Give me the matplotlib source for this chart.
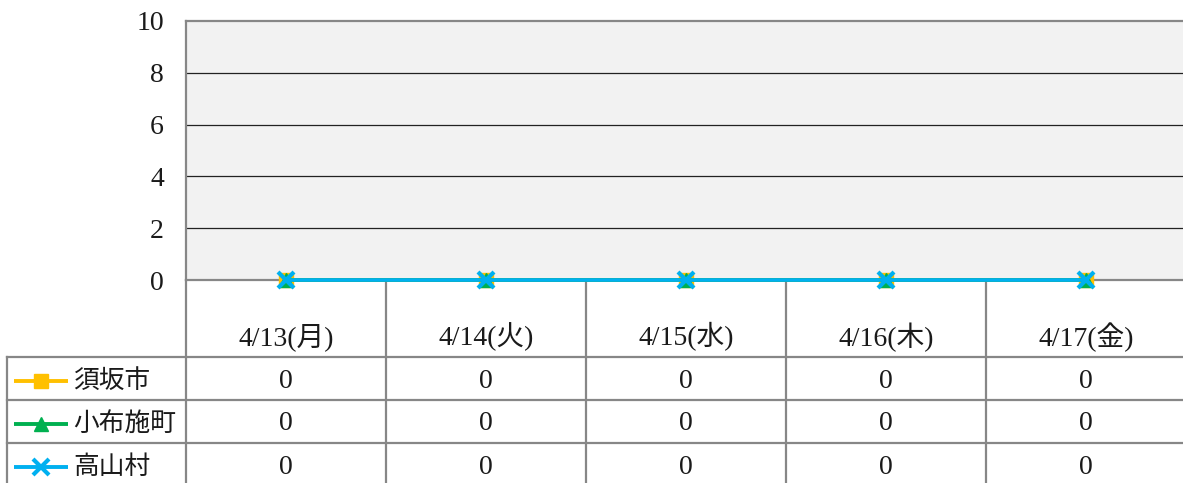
import numpy as np
import matplotlib.pyplot as plt

plt.rcParams['font.family'] = ['Liberation Serif', 'Noto Sans CJK JP']

dates = ['4/13(月)', '4/14(火)', '4/15(水)', '4/16(木)', '4/17(金)']
names = ['須坂市', '小布施町', '高山村']
suzaka = [0, 0, 0, 0, 0]
obuse = [0, 0, 0, 0, 0]
takayama = [0, 0, 0, 0, 0]
series = [suzaka, obuse, takayama]
colors = ['#FFC000', '#00B050', '#00B0F0']
markers = ['s', '^', 'x']
msizes = [10, 10, 12]

W, H = 1183, 483
grid_c = '#878787'
text_c = '#1a1a1a'
fs = 20

fig = plt.figure(figsize=(W / 100, H / 100), dpi=100)

# data table below the plot, x in category units, y in pixels from the axis line
legw = 179 / 200
tab = fig.add_axes([7 / W, 0, (1186 - 7) / W, 203 / H])
tab.set_xlim(-0.5 - legw, len(dates) - 0.5)
tab.set_ylim(203, 0)
tab.axis('off')
rows = [77, 120, 163]
for y in rows:
    tab.plot([-0.5 - legw, len(dates) - 0.5], [y, y], color=grid_c, lw=1.6, clip_on=False)
for i in range(len(dates) + 1):
    tab.plot([i - 0.5, i - 0.5], [0, 210], color=grid_c, lw=1.6, clip_on=False)
tab.plot([-0.5 - legw, -0.5 - legw], [77, 210], color=grid_c, lw=1.6, clip_on=False)
for i, d in enumerate(dates):
    tab.text(i, 57, d, ha='center', va='center', fontsize=fs, color=text_c)
for r, (nm, vals) in enumerate(zip(names, series)):
    yc = rows[r] + 24
    x0 = -0.5 - legw + 7 / 200
    x1 = -0.5 - legw + 61 / 200
    tab.plot([x0, x1], [yc, yc], color=colors[r], lw=2.8, solid_capstyle='butt')
    tab.plot([(x0 + x1) / 2], [yc], marker=markers[r], color=colors[r],
             ms=msizes[r], mew=3 if markers[r] == 'x' else 1)
    tab.text(-0.5 - legw + 66 / 200, yc, nm, ha='left', va='center', fontsize=18.5, color=text_c)
    for i, v in enumerate(vals):
        tab.text(i, yc, str(v), ha='center', va='center', fontsize=fs, color=text_c)

# plot area
ax = fig.add_axes([186 / W, 203 / H, 1000 / W, 259 / H])
ax.set_facecolor('#F2F2F2')
ax.set_xlim(-0.5, len(dates) - 0.5)
ax.set_ylim(0, 10)
ax.set_yticks(np.arange(0, 11, 2))
ax.set_xticks([])
ax.tick_params(axis='y', length=0, pad=16, labelsize=fs, labelcolor=text_c)
for s in ['left', 'top', 'bottom']:
    ax.spines[s].set_color(grid_c)
    ax.spines[s].set_linewidth(1.6)
ax.spines['right'].set_visible(False)
for g in [2, 4, 6, 8]:
    ax.axhline(g, color='#222222', lw=0.9, zorder=1)

x = np.arange(len(dates))
for r, vals in enumerate(series):
    ax.plot(x, vals, color=colors[r], lw=2.6, marker=markers[r], ms=msizes[r],
            mew=3 if markers[r] == 'x' else 1, clip_on=False, zorder=3 + r)

fig.savefig('out.png', dpi=100)
